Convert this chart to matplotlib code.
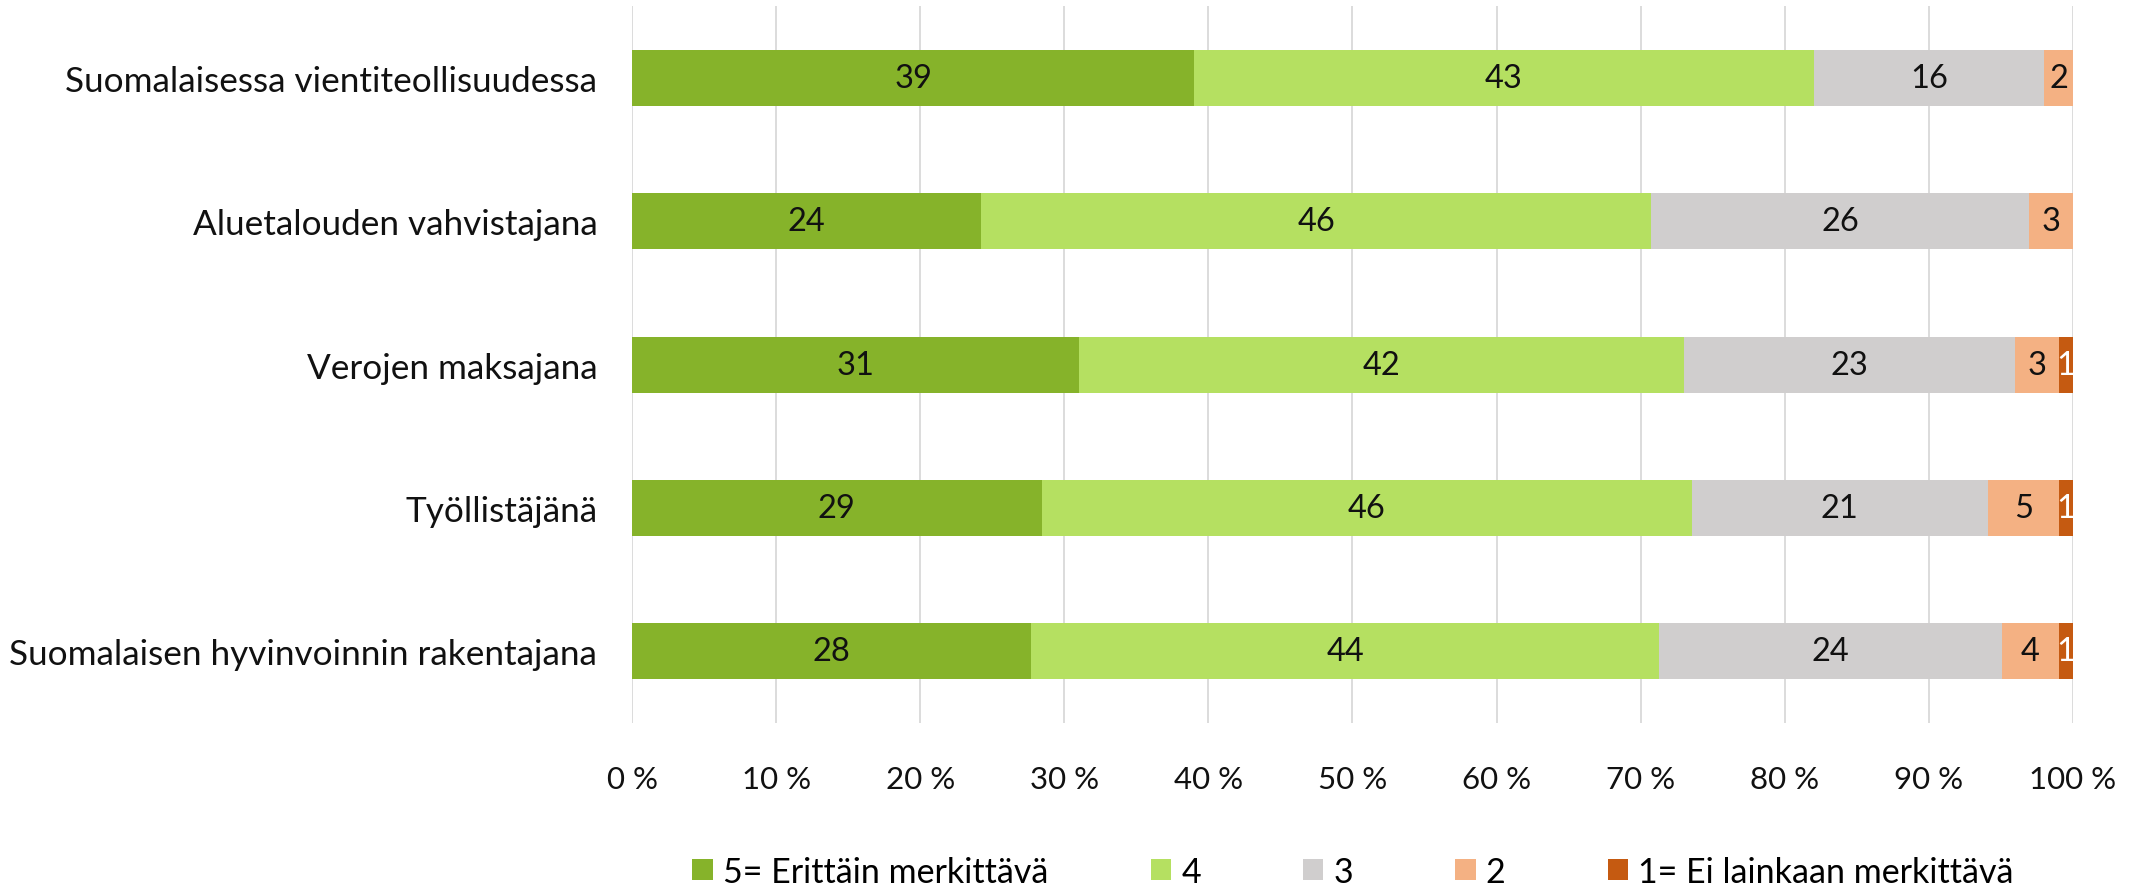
import matplotlib.pyplot as plt
import numpy as np

plt.rcParams['font.family'] = ['Lato', 'DejaVu Sans']

categories = ['Suomalaisessa vientiteollisuudessa', 'Aluetalouden vahvistajana',
              'Verojen maksajana', 'Työllistäjänä', 'Suomalaisen hyvinvoinnin rakentajana']
series_names = ['5= Erittäin merkittävä', '4', '3', '2', '1= Ei lainkaan merkittävä']
s5 = [39, 24, 31, 29, 28]
s4 = [43, 46, 42, 46, 44]
s3 = [16, 26, 23, 21, 24]
s2 = [2, 3, 3, 5, 4]
s1 = [0, 0, 1, 1, 1]
colors = ['#86B32A', '#B5E061', '#D0CECE', '#F4B183', '#C55A11']
label_colors = ['#111111', '#111111', '#111111', '#111111', 'white']
xticks = [0, 10, 20, 30, 40, 50, 60, 70, 80, 90, 100]

data = np.array([s5, s4, s3, s2, s1], dtype=float)
totals = data.sum(axis=0)
share = data / totals * 100  # 100 % stacked

fig = plt.figure(figsize=(21.41, 8.95), dpi=100)
ax = fig.add_axes([0.2952, 0.191, 0.673, 0.801])

y = np.arange(len(categories))
left = np.zeros(len(categories))
for i, name in enumerate(series_names):
    bars = ax.barh(y, share[i], left=left, height=0.39, color=colors[i],
                   label=name, zorder=3)
    labels = [str(int(v)) if v > 0 else '' for v in data[i]]
    ax.bar_label(bars, labels=labels, label_type='center', fontsize=23.5,
                 color=label_colors[i])
    left += share[i]

ax.set_ylim(len(categories) - 0.5, -0.5)
ax.set_xlim(0, 100)
ax.set_yticks(y)
ax.set_yticklabels(categories, fontsize=25.3, color='#111111')
ax.set_xticks(xticks)
ax.set_xticklabels([f'{t} %' for t in xticks], fontsize=22.5, color='#111111')
ax.tick_params(axis='both', length=0)
ax.tick_params(axis='x', pad=30)
ax.tick_params(axis='y', pad=25)
ax.xaxis.grid(True, color='#D9D9D9', linewidth=1.3, zorder=0)
for sp in ax.spines.values():
    sp.set_visible(False)

fig.legend(loc='center', bbox_to_anchor=(0.632, 0.025), ncol=5, frameon=False,
           fontsize=24.5, handlelength=0.6, handleheight=0.6, handletextpad=0.3,
           columnspacing=3.0)

fig.savefig('out.png', dpi=100, facecolor='white')
